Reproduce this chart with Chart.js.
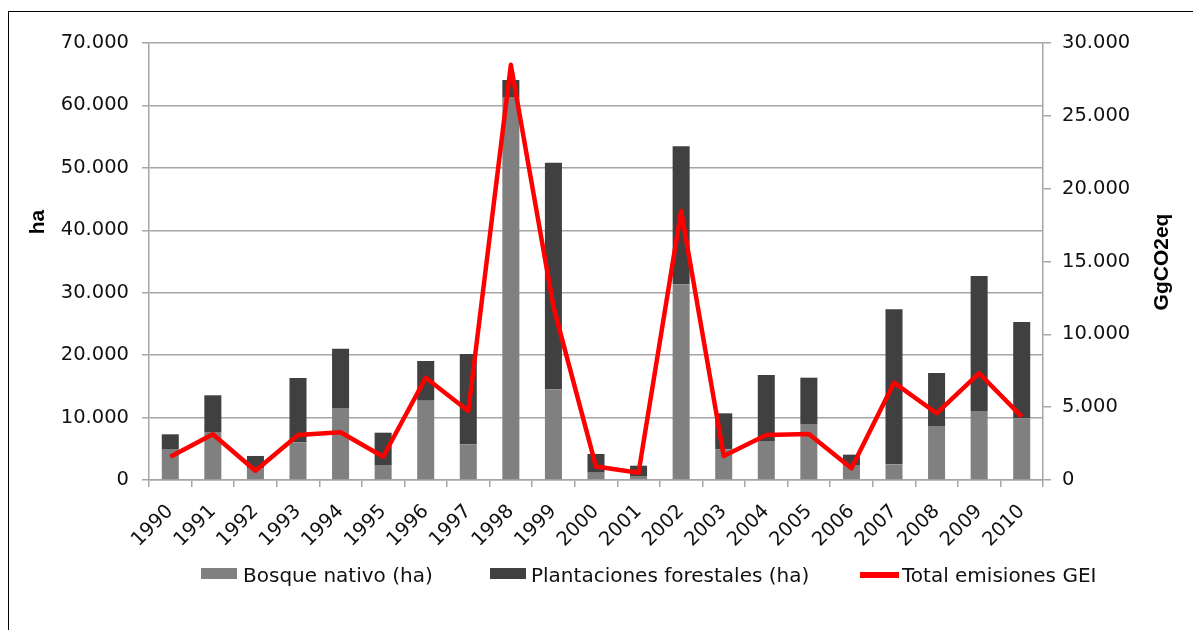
<!DOCTYPE html>
<html>
<head>
<meta charset="utf-8">
<script src="https://cdn.jsdelivr.net/npm/chart.js@4.4.1/dist/chart.umd.min.js"></script>
<style>
  body { margin: 0; background: #fff; }
  #wrap { position: relative; width: 1193px; height: 630px; overflow: hidden; }
  #frame { position: absolute; left: 8px; top: 11px; width: 1200px; height: 640px;
           border-top: 1.5px solid #000; border-left: 1.5px solid #000; }
  canvas { position: absolute; left: 0; top: 0; }
  .leg { position: absolute; top: 563px; font: 20px "DejaVu Sans", Verdana, sans-serif; color: #111; white-space: nowrap; line-height: 24px; }
  .box { position: absolute; width: 36px; height: 11px; top: 568px; }
  .lbox { position: absolute; width: 39px; height: 6px; top: 572px; background: #ff0000; }
</style>
</head>
<body>
<div id="wrap">
  <div id="frame"></div>
  <canvas id="chart" width="1193" height="630"></canvas>
  <div class="box" style="left:201px;background:#808080"></div>
  <div class="leg" style="left:243px">Bosque nativo (ha)</div>
  <div class="box" style="left:490px;background:#404040"></div>
  <div class="leg" style="left:531px">Plantaciones forestales (ha)</div>
  <div class="lbox" style="left:860px"></div>
  <div class="leg" style="left:902px">Total emisiones GEI</div>
</div>
<script>
const years = ['1990','1991','1992','1993','1994','1995','1996','1997','1998','1999','2000',
               '2001','2002','2003','2004','2005','2006','2007','2008','2009','2010'];
const bosqueNativo = [4970, 7690, 1900, 6040, 11530, 2400, 12700, 5720, 61240, 14530, 1170,
                      640, 31340, 4910, 6250, 8970, 2400, 2510, 8650, 11050, 9880];
const plantaciones = [2350, 5880, 1950, 10300, 9500, 5180, 6360, 14460, 2830, 36300, 3000,
                      1650, 22110, 5770, 10570, 7420, 1660, 24830, 8490, 21630, 15430];
const emisiones = [1600, 3140, 640, 3090, 3280, 1600, 7020, 4740, 28500, 11900, 920,
                   500, 18470, 1650, 3090, 3160, 800, 6680, 4580, 7330, 4350];

const gridGray = '#a6a6a6';
const tickFont = { family: 'DejaVu Sans', size: 19.5 };

// formato 70.000
function miles(v) {
  return String(v).replace(/\B(?=(\d{3})+(?!\d))/g, '.');
}

// titulos de ejes (ha a la izquierda, GgCO2eq a la derecha)
const axisTitles = {
  id: 'axisTitles',
  afterDraw(chart) {
    const ctx = chart.ctx;
    ctx.save();
    ctx.fillStyle = '#000';
    ctx.font = 'bold 21px "Liberation Sans", Arial, sans-serif';
    ctx.textAlign = 'center';
    ctx.textBaseline = 'middle';
    ctx.translate(38, 222);
    ctx.rotate(-Math.PI / 2);
    ctx.fillText('ha', 0, 0);
    ctx.restore();
    ctx.save();
    ctx.fillStyle = '#000';
    ctx.font = 'bold 21px "Liberation Sans", Arial, sans-serif';
    ctx.textAlign = 'center';
    ctx.textBaseline = 'middle';
    ctx.translate(1162, 262);
    ctx.rotate(-Math.PI / 2);
    ctx.fillText('GgCO2eq', 0, 0);
    ctx.restore();
  }
};

new Chart(document.getElementById('chart').getContext('2d'), {
  data: {
    labels: years,
    datasets: [
      { type: 'line', label: 'Total emisiones GEI', data: emisiones, yAxisID: 'y2',
        borderColor: '#ff0000', backgroundColor: '#ff0000', borderWidth: 4.5,
        pointRadius: 0, tension: 0, borderJoinStyle: 'round', order: 0 },
      { type: 'bar', label: 'Bosque nativo (ha)', data: bosqueNativo, yAxisID: 'y',
        backgroundColor: '#808080', stack: 'ha', order: 1,
        categoryPercentage: 1, barPercentage: 0.4 },
      { type: 'bar', label: 'Plantaciones forestales (ha)', data: plantaciones, yAxisID: 'y',
        backgroundColor: '#404040', stack: 'ha', order: 1,
        categoryPercentage: 1, barPercentage: 0.4 }
    ]
  },
  options: {
    responsive: false,
    animation: false,
    devicePixelRatio: 1,
    layout: { padding: { top: 43, left: 0, right: 0, bottom: 0 } },
    plugins: { legend: { display: false }, tooltip: { enabled: false } },
    scales: {
      x: {
        stacked: true,
        grid: { display: true, drawOnChartArea: false, offset: true, tickLength: 7, color: gridGray, lineWidth: 1.5 },
        border: { display: true, color: gridGray, width: 1.5 },
        ticks: { color: '#111', font: tickFont, minRotation: 45, maxRotation: 45, padding: 13, autoSkip: false },
        afterFit(scale) { scale.height = 150; }
      },
      y: {
        position: 'left',
        stacked: true,
        min: 0, max: 70000,
        ticks: { stepSize: 10000, color: '#111', font: tickFont, padding: 13, callback: v => miles(v) },
        grid: { color: gridGray, lineWidth: 1.5, tickLength: 7 },
        border: { display: true, color: gridGray, width: 1.5 },
        afterFit(scale) { scale.width = 149; }
      },
      y2: {
        position: 'right',
        stacked: false,
        min: 0, max: 30000,
        ticks: { stepSize: 5000, color: '#111', font: tickFont, padding: 11, callback: v => miles(v) },
        grid: { drawOnChartArea: false, color: gridGray, lineWidth: 1.5, tickLength: 8 },
        border: { display: true, color: gridGray, width: 1.5 },
        afterFit(scale) { scale.width = 150; }
      }
    }
  },
  plugins: [axisTitles]
});
</script>
</body>
</html>
